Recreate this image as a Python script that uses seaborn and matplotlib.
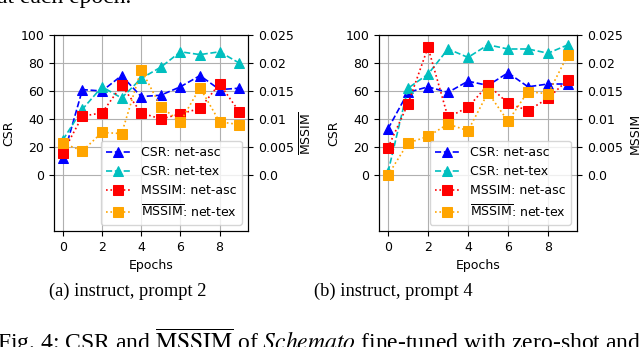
import matplotlib

matplotlib.use("Agg")

import matplotlib.pyplot as plt
import seaborn as sns

epochs = list(range(10))

# (a) instruct, prompt 2
csr_asc_a = [12, 61, 60, 71, 56, 57, 63, 71, 61, 62]
csr_tex_a = [25, 47, 63, 55, 69, 77, 88, 86, 88, 80]
mssim_asc_a = [0.0040, 0.0105, 0.0111, 0.0160, 0.0111, 0.0100, 0.0109, 0.0119, 0.0163, 0.0113]
mssim_tex_a = [0.0057, 0.0043, 0.0076, 0.0074, 0.0188, 0.0122, 0.0095, 0.0156, 0.0095, 0.0090]

# (b) instruct, prompt 4
csr_asc_b = [33, 59, 63, 59, 67, 64, 73, 63, 65, 65]
csr_tex_b = [2, 62, 72, 90, 84, 93, 90, 90, 87, 93]
mssim_asc_b = [0.0049, 0.0127, 0.0228, 0.0103, 0.0121, 0.0161, 0.0128, 0.0115, 0.0137, 0.0170]
mssim_tex_b = [0.0, 0.0057, 0.0069, 0.0091, 0.0079, 0.0147, 0.0096, 0.0149, 0.0145, 0.0215]

csr_ticks = [0, 20, 40, 60, 80, 100]
mssim_ticks = [0.0, 0.005, 0.01, 0.015, 0.02, 0.025]
mssim_labels = ["0.0", "0.005", "0.01", "0.015", "0.02", "0.025"]
epoch_ticks = [0, 2, 4, 6, 8]
series_labels = ["CSR: net-asc", "CSR: net-tex", "MSSIM: net-asc",
                 r"$\overline{\mathrm{MSSIM}}$: net-tex"]

sns.set_style("ticks", {
    "axes.edgecolor": "black", "axes.labelcolor": "black", "text.color": "black",
    "xtick.color": "black", "ytick.color": "black", "grid.color": "#b0b0b0",
})
FS = 9
LINE = {"linewidth": 1.2, "markersize": 6.5}


def panel(ax, csr_asc, csr_tex, mssim_asc, mssim_tex, right_label):
    sns.lineplot(x=epochs, y=csr_asc, ax=ax, color="blue", marker="^", linestyle="--",
                 markeredgecolor="blue", label=series_labels[0], legend=False, **LINE)
    sns.lineplot(x=epochs, y=csr_tex, ax=ax, color="c", marker="^", linestyle="--",
                 markeredgecolor="c", label=series_labels[1], legend=False, **LINE)
    ax2 = ax.twinx()
    sns.lineplot(x=epochs, y=mssim_asc, ax=ax2, color="red", marker="s", linestyle=":",
                 markeredgecolor="red", label=series_labels[2], legend=False, **LINE)
    sns.lineplot(x=epochs, y=mssim_tex, ax=ax2, color="orange", marker="s", linestyle=":",
                 markeredgecolor="orange", label=series_labels[3], legend=False, **LINE)

    ax.set_ylim(-40, 100)
    ax.set_yticks(csr_ticks)
    ax.set_xticks(epoch_ticks)
    ax.grid(True, color="#b0b0b0", linewidth=0.8)
    ax.set_xlabel("Epochs", fontsize=FS)
    ax.set_ylabel("CSR", fontsize=FS)
    ax.tick_params(labelsize=FS, length=3.5)

    ax2.set_ylim(-0.01, 0.025)
    ax2.set_yticks(mssim_ticks)
    ax2.set_yticklabels(mssim_labels)
    ax2.tick_params(labelsize=FS, length=3.5)
    ax2.set_ylabel(right_label, fontsize=FS)
    ax2.grid(False)
    for s in ax2.spines.values():
        s.set_color("black")

    h1, l1 = ax.get_legend_handles_labels()
    h2, l2 = ax2.get_legend_handles_labels()
    ax2.legend(h1 + h2, l1 + l2, loc="lower right", fontsize=FS)


fig = plt.figure(figsize=(6.4, 3.47), dpi=100)
ax_a = fig.add_axes([54 / 640, 1 - 231 / 347, 194 / 640, 196 / 347])
ax_b = fig.add_axes([379 / 640, 1 - 231 / 347, 198 / 640, 196 / 347])

panel(ax_a, csr_asc_a, csr_tex_a, mssim_asc_a, mssim_tex_a, r"$\overline{\mathrm{MSSIM}}$")
panel(ax_b, csr_asc_b, csr_tex_b, mssim_asc_b, mssim_tex_b, "MSSIM")

serif = {"family": "Liberation Serif", "math_fontfamily": "stix"}
fig.text(-0.005, 1 - 3.5 / 347, "at each epoch.", fontsize=17, va="baseline", **serif)
fig.text(128 / 640, 1 - 291 / 347, "(a) instruct, prompt 2", fontsize=13.3,
         ha="center", va="center", **serif)
fig.text(393 / 640, 1 - 291 / 347, "(b) instruct, prompt 4", fontsize=13.3,
         ha="center", va="center", **serif)
fig.text(-0.004, 1 - 350 / 347,
         r"Fig. 4: CSR and $\overline{\mathrm{MSSIM}}$ of $\mathit{Schemato}$ fine-tuned with zero-shot and",
         fontsize=17, va="baseline", **serif)

fig.savefig("out.png", dpi=100)
